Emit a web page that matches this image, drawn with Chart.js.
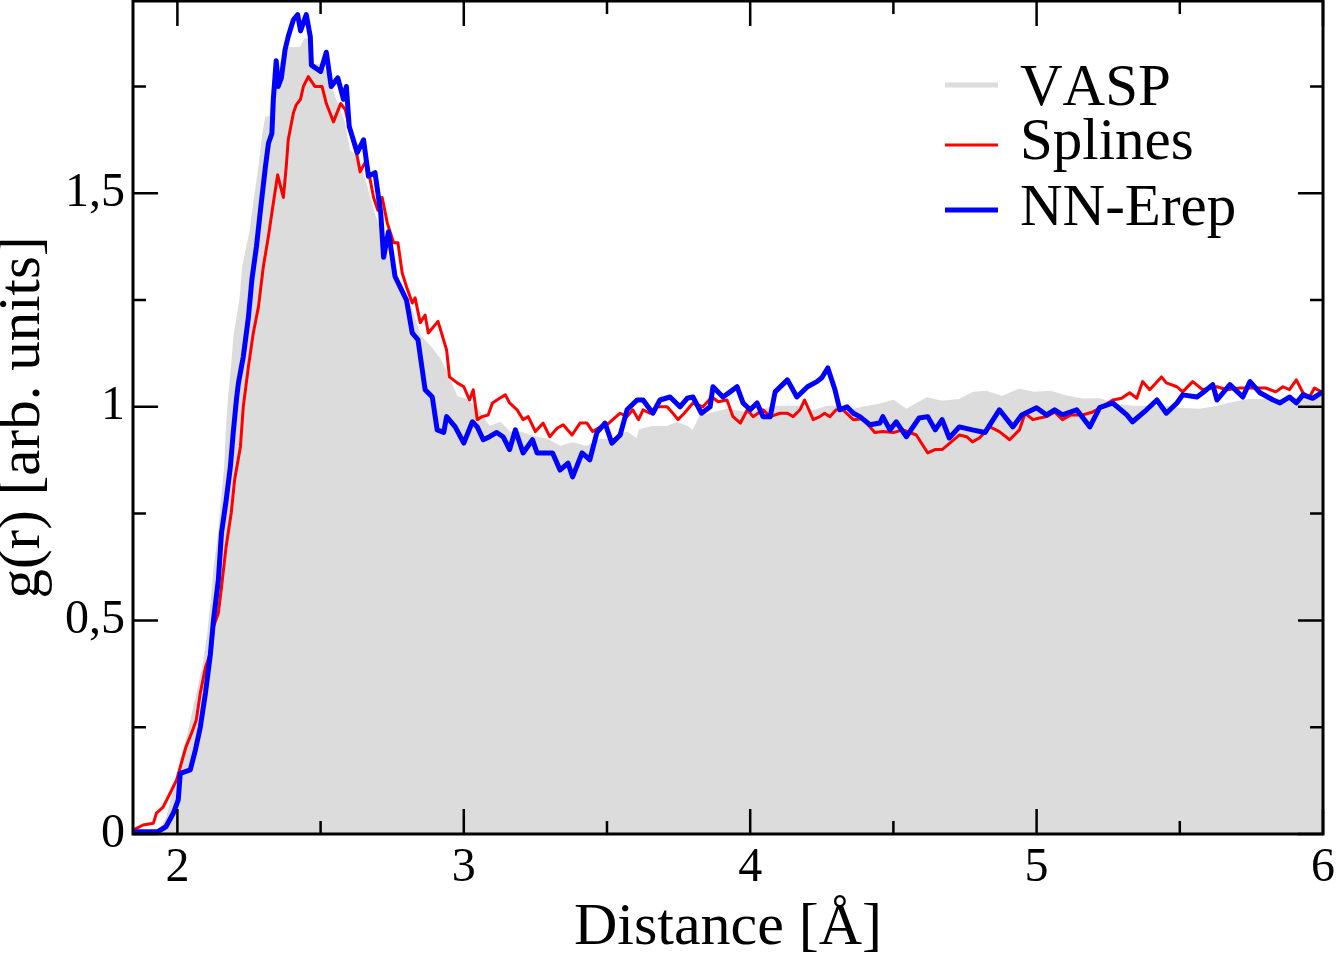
<!DOCTYPE html>
<html>
<head>
<meta charset="utf-8">
<title>g(r)</title>
<script src="https://cdn.jsdelivr.net/npm/chart.js@4.4.0/dist/chart.umd.min.js"></script>
<style>
  html, body { margin: 0; padding: 0; background: #fff; }
  #wrap { width: 1336px; height: 958px; }
</style>
</head>
<body>
<div id="wrap"><canvas id="grChart" width="1336" height="958"></canvas></div>
<script>
'use strict';

// --- data: distance r [A] and g(r) ---
const vaspR = [1.845, 1.90, 1.93, 1.95, 1.965, 1.98, 2.0, 2.02, 2.04, 2.063, 2.09, 2.108, 2.12, 2.13, 2.145, 2.155, 2.167, 2.172, 2.18, 2.19,
  2.20, 2.22, 2.23, 2.255, 2.27, 2.286, 2.30, 2.31, 2.325, 2.335, 2.36, 2.375, 2.39, 2.43, 2.445, 2.457, 2.47, 2.50, 2.52, 2.545,
  2.58, 2.60, 2.63, 2.656, 2.685, 2.71, 2.74, 2.778, 2.813, 2.848, 2.883, 2.918, 2.95, 2.975, 3.01, 3.047, 3.075, 3.09, 3.127, 3.16,
  3.197, 3.24, 3.29, 3.336, 3.38, 3.43, 3.476, 3.52, 3.57, 3.605, 3.615, 3.66, 3.71, 3.745, 3.78, 3.80, 3.825, 3.87, 3.92, 3.99,
  4.035, 4.08, 4.13, 4.17, 4.22, 4.27, 4.31, 4.36, 4.41, 4.45, 4.50, 4.545, 4.617, 4.67, 4.73, 4.78, 4.826, 4.88, 4.94, 4.99,
  5.05, 5.105, 5.16, 5.22, 5.28, 5.335, 5.395, 5.45, 5.51, 5.57, 5.63, 5.685, 5.74, 5.80, 5.86, 5.92, 6.0];
const vaspG = [0, 0, 0.005, 0.02, 0.04, 0.08, 0.13, 0.19, 0.24, 0.31, 0.39, 0.47, 0.55, 0.625, 0.70, 0.78, 0.86, 0.94, 1.02, 1.09,
  1.17, 1.25, 1.33, 1.41, 1.485, 1.56, 1.64, 1.677, 1.68, 1.76, 1.80, 1.83, 1.84, 1.84, 1.86, 1.86, 1.80, 1.80, 1.78, 1.73,
  1.67, 1.60, 1.58, 1.525, 1.454, 1.41, 1.337, 1.274, 1.234, 1.164, 1.14, 1.11, 1.063, 1.023, 1.016, 0.995, 0.965, 0.953, 0.962, 0.94,
  0.94, 0.93, 0.923, 0.906, 0.915, 0.906, 0.923, 0.923, 0.94, 0.923, 0.946, 0.953, 0.953, 0.962, 0.953, 0.942, 0.977, 0.985, 0.993, 0.985,
  0.99, 1.0, 1.0, 1.0, 0.99, 1.0, 1.0, 0.993, 1.0, 1.005, 1.014, 0.993, 1.02, 1.012, 1.016, 1.033, 1.035, 1.023, 1.04, 1.033,
  1.035, 1.024, 1.017, 1.018, 1.004, 1.0, 1.0, 1.0, 0.995, 0.993, 1.0, 1.009, 1.016, 1.016, 1.016, 1.02, 1.026];

const splinesR = [1.845, 1.88, 1.916, 1.927, 1.95, 1.975, 1.997, 2.03, 2.05, 2.066, 2.08, 2.098, 2.115, 2.126, 2.143, 2.154, 2.17, 2.188, 2.20, 2.22,
  2.23, 2.248, 2.265, 2.283, 2.30, 2.318, 2.335, 2.35, 2.37, 2.38, 2.387, 2.405, 2.415, 2.43, 2.44, 2.457, 2.48, 2.505, 2.52, 2.545,
  2.57, 2.586, 2.60, 2.628, 2.638, 2.66, 2.685, 2.70, 2.715, 2.733, 2.755, 2.77, 2.785, 2.80, 2.82, 2.83, 2.848, 2.865, 2.876, 2.91,
  2.94, 2.95, 2.977, 3.0, 3.02, 3.033, 3.047, 3.064, 3.085, 3.10, 3.125, 3.145, 3.16, 3.186, 3.207, 3.225, 3.25, 3.277, 3.30, 3.326,
  3.347, 3.378, 3.406, 3.43, 3.45, 3.476, 3.50, 3.52, 3.546, 3.57, 3.59, 3.61, 3.626, 3.65, 3.675, 3.71, 3.73, 3.748, 3.77, 3.80,
  3.835, 3.866, 3.888, 3.919, 3.94, 3.966, 3.99, 4.01, 4.045, 4.07, 4.104, 4.13, 4.15, 4.174, 4.19, 4.22, 4.243, 4.26, 4.278, 4.30,
  4.324, 4.36, 4.394, 4.435, 4.463, 4.50, 4.533, 4.58, 4.62, 4.645, 4.67, 4.697, 4.73, 4.756, 4.776, 4.80, 4.837, 4.87, 4.906, 4.94,
  4.96, 4.987, 5.01, 5.035, 5.063, 5.09, 5.12, 5.16, 5.196, 5.23, 5.266, 5.297, 5.325, 5.35, 5.37, 5.395, 5.436, 5.453, 5.49, 5.51,
  5.545, 5.58, 5.63, 5.665, 5.71, 5.755, 5.80, 5.835, 5.86, 5.883, 5.907, 5.93, 5.953, 5.97, 6.0];
const splinesG = [0.009, 0.021, 0.025, 0.049, 0.063, 0.096, 0.126, 0.204, 0.237, 0.267, 0.33, 0.39, 0.424, 0.485, 0.517, 0.578, 0.672, 0.752, 0.83, 0.906,
  1.0, 1.094, 1.173, 1.234, 1.328, 1.40, 1.477, 1.543, 1.49, 1.562, 1.625, 1.688, 1.707, 1.72, 1.75, 1.773, 1.75, 1.75, 1.71, 1.667,
  1.71, 1.696, 1.656, 1.586, 1.55, 1.578, 1.49, 1.46, 1.49, 1.43, 1.384, 1.384, 1.313, 1.281, 1.243, 1.255, 1.197, 1.215, 1.173, 1.2,
  1.133, 1.07, 1.056, 1.047, 1.016, 1.04, 0.97, 0.977, 0.981, 1.009, 1.02, 1.028, 1.009, 0.993, 0.97, 0.977, 0.942, 0.962, 0.93, 0.95,
  0.958, 0.934, 0.962, 0.962, 0.942, 0.953, 0.958, 0.97, 0.985, 0.977, 0.993, 0.97, 0.993, 0.985, 1.0, 1.0, 0.985, 0.97, 0.985, 1.009,
  1.0, 1.023, 1.012, 1.016, 0.977, 0.962, 0.993, 0.977, 0.993, 0.977, 0.985, 0.985, 0.977, 0.993, 1.016, 0.97, 0.977, 0.985, 0.977, 0.993,
  0.993, 0.97, 0.972, 0.94, 0.942, 0.94, 0.946, 0.934, 0.892, 0.90, 0.90, 0.915, 0.934, 0.93, 0.918, 0.927, 0.953, 0.942, 0.923, 0.946,
  0.985, 0.97, 0.974, 0.977, 0.988, 0.97, 0.981, 0.981, 0.988, 1.0, 1.016, 1.02, 1.033, 1.02, 1.059, 1.04, 1.07, 1.056, 1.047, 1.035,
  1.059, 1.04, 1.047, 1.04, 1.044, 1.044, 1.044, 1.035, 1.047, 1.04, 1.063, 1.033, 1.023, 1.044, 1.033];

const nnR = [1.845, 1.93, 1.96, 1.986, 2.003, 2.01, 2.045, 2.063, 2.08, 2.098, 2.115, 2.126, 2.143, 2.154, 2.17, 2.185, 2.195, 2.206, 2.213, 2.23,
  2.248, 2.26, 2.276, 2.29, 2.307, 2.318, 2.33, 2.335, 2.345, 2.352, 2.363, 2.376, 2.387, 2.405, 2.42, 2.43, 2.45, 2.464, 2.468, 2.50,
  2.52, 2.537, 2.56, 2.58, 2.59, 2.60, 2.628, 2.65, 2.667, 2.69, 2.71, 2.72, 2.737, 2.76, 2.778, 2.80, 2.82, 2.84, 2.865, 2.89,
  2.907, 2.93, 2.94, 2.97, 3.0, 3.03, 3.047, 3.068, 3.09, 3.115, 3.137, 3.16, 3.18, 3.207, 3.24, 3.256, 3.29, 3.31, 3.336, 3.364,
  3.38, 3.413, 3.44, 3.465, 3.493, 3.517, 3.546, 3.57, 3.605, 3.626, 3.66, 3.685, 3.72, 3.755, 3.78, 3.80, 3.83, 3.86, 3.87, 3.905,
  3.93, 3.954, 3.975, 4.0, 4.024, 4.045, 4.07, 4.087, 4.13, 4.163, 4.20, 4.233, 4.25, 4.271, 4.296, 4.313, 4.338, 4.36, 4.383, 4.418,
  4.453, 4.463, 4.488, 4.51, 4.545, 4.59, 4.62, 4.646, 4.67, 4.695, 4.73, 4.776, 4.82, 4.87, 4.917, 4.948, 5.0, 5.035, 5.063, 5.09,
  5.14, 5.186, 5.22, 5.266, 5.315, 5.335, 5.384, 5.42, 5.453, 5.49, 5.51, 5.56, 5.58, 5.615, 5.63, 5.675, 5.72, 5.745, 5.78, 5.826,
  5.85, 5.883, 5.907, 5.93, 5.964, 5.995];
const nnG = [0.005, 0.005, 0.017, 0.049, 0.08, 0.142, 0.15, 0.197, 0.25, 0.33, 0.42, 0.50, 0.595, 0.705, 0.78, 0.86, 0.94, 1.016, 1.055, 1.117,
  1.21, 1.297, 1.375, 1.46, 1.56, 1.617, 1.64, 1.72, 1.81, 1.75, 1.77, 1.836, 1.867, 1.906, 1.918, 1.88, 1.918, 1.867, 1.80, 1.785,
  1.83, 1.75, 1.77, 1.72, 1.75, 1.656, 1.595, 1.625, 1.54, 1.548, 1.454, 1.35, 1.41, 1.305, 1.28, 1.25, 1.173, 1.157, 1.04, 1.023,
  0.946, 0.94, 0.977, 0.953, 0.915, 0.965, 0.953, 0.923, 0.93, 0.94, 0.93, 0.90, 0.946, 0.892, 0.923, 0.892, 0.892, 0.892, 0.852, 0.868,
  0.836, 0.892, 0.876, 0.94, 0.962, 0.915, 0.934, 0.993, 1.016, 1.016, 0.985, 1.016, 1.023, 1.0, 1.02, 1.023, 0.985, 1.0, 1.047, 1.023,
  1.035, 1.047, 1.009, 0.993, 1.009, 0.977, 0.977, 1.035, 1.063, 1.023, 1.047, 1.059, 1.068, 1.091, 1.04, 0.993, 1.0, 0.985, 0.977, 0.958,
  0.962, 0.977, 0.946, 0.965, 0.93, 0.974, 0.977, 0.946, 0.97, 0.927, 0.953, 0.946, 0.94, 0.993, 0.953, 0.981, 0.998, 0.981, 0.993, 0.981,
  0.993, 0.953, 0.998, 1.009, 0.981, 0.965, 0.993, 1.016, 0.985, 1.009, 1.028, 1.023, 1.033, 1.052, 1.016, 1.052, 1.023, 1.059, 1.033, 1.016,
  1.009, 1.023, 1.009, 1.028, 1.02, 1.033];

const seriesLabels = ['VASP', 'Splines', 'NN-Erep'];
const xTicks = [2, 3, 4, 5, 6];
const xMinorTicks = [2.5, 3.5, 4.5, 5.5];
const yTicks = [0, 0.5, 1, 1.5];
const yMinorTicks = [0.25, 0.75, 1.25, 1.75];

const serif = "'Liberation Serif', 'Times New Roman', serif";

function toPoints(xs, ys) {
    return xs.map(function (r, i) { return { x: r, y: ys[i] }; });
}

function commaLabel(v) {
    return String(v).replace('.', ',');
}

// inner tick marks on all four sides plus the black frame
const frameTicks = {
    id: 'frameTicks',
    afterDatasetsDraw(chart) {
        const ctx = chart.ctx;
        const a = chart.chartArea;
        const xs = chart.scales.x;
        const ys = chart.scales.y;
        ctx.save();
        ctx.strokeStyle = '#000';
        ctx.lineWidth = 2.5;
        ctx.beginPath();
        function xMark(v, len) {
            const p = xs.getPixelForValue(v);
            ctx.moveTo(p, a.bottom); ctx.lineTo(p, a.bottom - len);
            ctx.moveTo(p, a.top); ctx.lineTo(p, a.top + len);
        }
        function yMark(v, len) {
            const p = ys.getPixelForValue(v);
            ctx.moveTo(a.left, p); ctx.lineTo(a.left + len, p);
            ctx.moveTo(a.right, p); ctx.lineTo(a.right - len, p);
        }
        xTicks.forEach(function (v) { xMark(v, 25); });
        xMinorTicks.forEach(function (v) { xMark(v, 13); });
        yTicks.forEach(function (v) { yMark(v, 25); });
        yMinorTicks.forEach(function (v) { yMark(v, 13); });
        ctx.stroke();
        ctx.lineWidth = 3;
        ctx.strokeRect(a.left, a.top, a.right - a.left, a.bottom - a.top);
        ctx.restore();
    }
};

// legend drawn inside the plot, top right
const innerLegend = {
    id: 'innerLegend',
    afterDraw(chart) {
        const ctx = chart.ctx;
        const lineY = [85, 145, 210];
        const baseY = [105, 159, 225];
        ctx.save();
        ctx.font = '59px ' + serif;
        if ('fontKerning' in ctx) { ctx.fontKerning = 'none'; }
        ctx.textBaseline = 'alphabetic';
        ctx.fillStyle = '#000';
        chart.data.datasets.forEach(function (ds, i) {
            ctx.strokeStyle = ds.borderColor;
            ctx.lineWidth = i === 0 ? 5 : ds.borderWidth;
            ctx.beginPath();
            ctx.moveTo(945, lineY[i]);
            ctx.lineTo(998, lineY[i]);
            ctx.stroke();
            ctx.fillText(ds.label, 1020, baseY[i]);
        });
        ctx.restore();
    }
};

const config = {
    type: 'line',
    data: {
        datasets: [{
            label: seriesLabels[0],
            data: toPoints(vaspR, vaspG),
            borderColor: '#dcdcdc',
            backgroundColor: '#dcdcdc',
            borderWidth: 2,
            fill: 'origin',
            order: 2
        }, {
            label: seriesLabels[1],
            data: toPoints(splinesR, splinesG),
            borderColor: '#ff0000',
            borderWidth: 3,
            fill: false,
            order: 1
        }, {
            label: seriesLabels[2],
            data: toPoints(nnR, nnG),
            borderColor: '#0000ff',
            borderWidth: 5,
            fill: false,
            order: 0
        }]
    },
    options: {
        responsive: false,
        devicePixelRatio: 1,
        animation: false,
        events: [],
        layout: { padding: { top: 1, right: 13, left: 0, bottom: 0 } },
        elements: {
            point: { radius: 0 },
            line: { tension: 0, borderJoinStyle: 'round', borderCapStyle: 'round' }
        },
        plugins: {
            legend: { display: false },
            tooltip: { enabled: false }
        },
        scales: {
            x: {
                type: 'linear',
                min: 1.845,
                max: 6.0,
                grid: { display: false, drawTicks: false },
                border: { display: false },
                afterBuildTicks: function (s) { s.ticks = xTicks.map(function (v) { return { value: v }; }); },
                afterFit: function (s) { s.height = 124; s.paddingLeft = 0; s.paddingRight = 0; },
                ticks: {
                    padding: 10,
                    color: '#000',
                    maxRotation: 0,
                    font: { family: serif, size: 48, lineHeight: 1 },
                    callback: commaLabel
                },
                title: {
                    display: true,
                    text: 'Distance [Å]',
                    color: '#000',
                    font: { family: serif, size: 60, lineHeight: 1 },
                    padding: 0
                }
            },
            y: {
                type: 'linear',
                min: 0,
                max: 1.95,
                grid: { display: false, drawTicks: false },
                border: { display: false },
                afterBuildTicks: function (s) { s.ticks = yTicks.map(function (v) { return { value: v }; }); },
                afterFit: function (s) { s.width = 133; s.paddingTop = 0; s.paddingBottom = 0; },
                ticks: {
                    padding: 8,
                    color: '#000',
                    font: { family: serif, size: 48, lineHeight: 1 },
                    callback: commaLabel
                },
                title: {
                    display: true,
                    text: 'g(r) [arb. units]',
                    color: '#000',
                    font: { family: serif, size: 59, lineHeight: 1 },
                    padding: { top: -6, bottom: 0 }
                }
            }
        }
    },
    plugins: [frameTicks, innerLegend]
};

const grChart = new Chart(document.getElementById('grChart'), config);
</script>
</body>
</html>
